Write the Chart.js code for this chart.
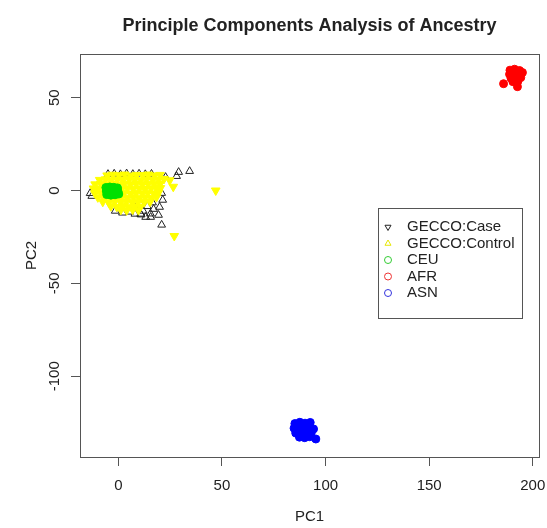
<!DOCTYPE html>
<html>
<head>
<meta charset="utf-8">
<script src="https://cdn.jsdelivr.net/npm/chart.js@4/dist/chart.umd.min.js"></script>
<style>
  html, body { margin: 0; padding: 0; background: #ffffff; }
  #wrap { width: 547px; height: 528px; }
</style>
</head>
<body>
<div id="wrap"><canvas id="c" width="547" height="528"></canvas></div>
<script>
// Labels
const chartTitle = 'Principle Components Analysis of Ancestry';
const xTitle = 'PC1';
const yTitle = 'PC2';
const xTicks = [0, 50, 100, 150, 200];
const yTicks = [-100, -50, 0, 50];
const seriesNames = ['GECCO:Case', 'GECCO:Control', 'CEU', 'AFR', 'ASN'];

// GECCO cases: rim of the main cloud plus the scattered outliers
const geccoCase = [
  [-5.0, 8.8], [-2.0, 9.0], [1.0, 8.7], [4.0, 9.1], [7.0, 8.8], [10.0, 9.0], [13.0, 8.7], [16.0, 8.9],
  [-13.6, -1.5], [-12.8, -3.0],
  [-1.5, -11.0], [2.0, -12.0], [5.5, -11.5], [8.0, -12.6], [8.0, -9.0], [10.5, -7.0], [12.0, -11.0],
  [14.0, -8.5], [15.5, -12.5], [17.0, -10.0], [16.5, -6.5], [11.0, -13.0],
  [22.8, 7.2], [28.1, 7.7], [29.1, 9.9], [34.4, 10.4],
  [20.9, -1.4], [21.4, -5.1], [19.9, -8.9], [19.4, -13.2], [20.9, -18.5],
  [15.6, -14.3], [13.2, -14.3], [10.8, -12.6]
];

// GECCO controls: dense main cloud and a few stragglers
const geccoControl = [
  [-5.4, 8.1], [-2.7, 8.5], [0.3, 8.2], [3.0, 8.6], [6.0, 8.0], [8.7, 8.4], [11.7, 8.3], [14.4, 8.6], [17.4, 8.1], [20.1, 8.4],
  [-9.0, 5.7], [-6.2, 6.0], [-3.5, 5.5], [-0.5, 5.9], [2.2, 5.6], [5.2, 6.1], [7.9, 5.8], [10.9, 5.5], [13.6, 6.0], [16.6, 5.7], [19.3, 5.9], [22.0, 6.2],
  [-11.2, 3.3], [-8.5, 3.6], [-5.5, 3.2], [-2.8, 3.5], [0.2, 3.1], [2.9, 3.6], [5.9, 3.3], [8.6, 3.5], [11.6, 3.2], [14.3, 3.6], [17.3, 3.3], [20.0, 3.5],
  [-12.0, 1.1], [-9.9, 0.8], [-7.0, 1.2], [-4.2, 0.9], [-1.3, 1.0], [1.5, 0.7], [4.4, 1.2], [7.2, 0.9], [10.1, 1.1], [12.9, 0.8], [15.8, 1.2], [18.6, 0.9], [20.3, 1.3],
  [-11.3, -1.5], [-8.5, -1.2], [-5.6, -1.6], [-2.8, -1.3], [0.1, -1.5], [2.9, -1.2], [5.8, -1.6], [8.6, -1.3], [11.5, -1.5], [14.3, -1.2], [17.2, -1.6], [19.3, -1.3],
  [-9.9, -3.7], [-7.1, -4.0], [-4.2, -3.6], [-1.4, -3.9], [1.5, -3.7], [4.3, -4.0], [7.2, -3.6], [10.0, -3.9], [12.9, -3.7], [15.7, -4.0], [18.4, -3.6],
  [-7.5, -6.1], [-4.6, -6.4], [-1.8, -6.0], [1.1, -6.3], [3.9, -6.1], [6.8, -6.4], [9.6, -6.0], [12.5, -6.3], [15.3, -6.1],
  [-3.6, -8.5], [-0.8, -8.8], [2.1, -8.4], [4.9, -8.7], [7.8, -8.5], [10.6, -8.8],
  [1.2, -10.4], [4.0, -10.7], [6.9, -10.3], [9.7, -10.6],
  [24.8, 5.5], [26.5, 2.0], [47.0, 0.0], [27.0, -24.5]
];

// Reference panels
const ceu = [
  [-6.0, 1.6], [-4.1, 1.9], [-2.2, 1.7], [-0.4, 1.4], [-5.8, -0.3], [-3.9, 0.1], [-1.9, -0.2], [-0.2, -0.4],
  [-5.6, -2.2], [-3.6, -2.5], [-1.6, -2.3], [0.2, -1.9], [-2.9, 0.9], [-1.1, 0.6], [-4.8, -1.2]
];
const afr = [
  [189.0, 64.8], [191.2, 65.3], [193.6, 64.6], [188.8, 62.6], [191.0, 62.9], [193.4, 62.2], [195.0, 63.5],
  [189.5, 60.5], [191.8, 60.2], [194.2, 60.8], [190.4, 58.6], [192.8, 58.8], [185.9, 57.5], [192.6, 55.9]
];
const asn = [
  [85.2, -125.5], [87.6, -124.8], [90.1, -125.3], [92.6, -124.9], [84.8, -128.0], [87.2, -127.6], [89.7, -128.2],
  [92.2, -127.8], [94.2, -128.4], [85.6, -130.6], [88.1, -130.2], [90.6, -130.8], [93.1, -130.4], [87.4, -132.8],
  [89.9, -133.1], [92.4, -132.6], [95.3, -133.8]
];

const toPts = arr => arr.map(([x, y]) => ({ x, y }));
const FONT = '"Liberation Sans", Arial, Helvetica, sans-serif';
const TEXT = '#222222';

// Frame, rotated y tick labels, main title and legend box
const decorations = {
  id: 'decorations',
  afterDraw(chart) {
    const ctx = chart.ctx;
    const ca = chart.chartArea;
    const ys = chart.scales.y;
    ctx.save();

    ctx.strokeStyle = '#555555';
    ctx.lineWidth = 1;
    ctx.strokeRect(Math.round(ca.left) + 0.5, Math.round(ca.top) + 0.5,
                   Math.round(ca.right - ca.left), Math.round(ca.bottom - ca.top));

    ctx.fillStyle = TEXT;
    ctx.font = '15px ' + FONT;
    ctx.textAlign = 'center';
    ctx.textBaseline = 'middle';
    yTicks.forEach(v => {
      const py = ys.getPixelForValue(v);
      ctx.save();
      ctx.translate(ca.left - 25, py);
      ctx.rotate(-Math.PI / 2);
      ctx.fillText(String(v), 0, 0);
      ctx.restore();
    });

    ctx.font = 'bold 18px ' + FONT;
    ctx.textBaseline = 'alphabetic';
    ctx.fillText(chartTitle, (ca.left + ca.right) / 2, 31);

    const lx = ca.left + 298, ly = ca.top + 154, lw = 144, lh = 110;
    ctx.strokeStyle = '#555555';
    ctx.strokeRect(lx + 0.5, ly + 0.5, lw, lh);
    const syms = [
      { style: 'triangle', rot: 180, color: '#222222' },
      { style: 'triangle', rot: 0, color: '#e6e600' },
      { style: 'circle', rot: 0, color: '#33cc33' },
      { style: 'circle', rot: 0, color: '#ee3333' },
      { style: 'circle', rot: 0, color: '#3333dd' }
    ];
    seriesNames.forEach((name, i) => {
      const y = ly + 19 + i * 16.5;
      ctx.strokeStyle = syms[i].color;
      ctx.fillStyle = 'rgba(0,0,0,0)';
      ctx.lineWidth = 1;
      Chart.helpers.drawPoint(ctx, { pointStyle: syms[i].style, rotation: syms[i].rot, radius: 3.5, borderWidth: 1 }, lx + 10, y);
      ctx.fillStyle = TEXT;
      ctx.font = '15px ' + FONT;
      ctx.textAlign = 'left';
      ctx.textBaseline = 'middle';
      ctx.fillText(name, lx + 29, y);
    });
    ctx.restore();
  }
};

new Chart(document.getElementById('c'), {
  type: 'scatter',
  data: {
    datasets: [
      { label: seriesNames[0], data: toPts(geccoCase), order: 5, pointStyle: 'triangle', pointRadius: 4.5,
        borderColor: '#222222', backgroundColor: 'rgba(0,0,0,0)', borderWidth: 1 },
      { label: seriesNames[1], data: toPts(geccoControl), order: 4, pointStyle: 'triangle', rotation: 180, pointRadius: 5,
        borderColor: '#ffff00', backgroundColor: '#ffff00', borderWidth: 1 },
      { label: seriesNames[2], data: toPts(ceu), order: 3, pointStyle: 'circle', pointRadius: 4,
        borderColor: '#00e000', backgroundColor: '#00e000', borderWidth: 1 },
      { label: seriesNames[3], data: toPts(afr), order: 2, pointStyle: 'circle', pointRadius: 4,
        borderColor: '#ff0000', backgroundColor: '#ff0000', borderWidth: 1 },
      { label: seriesNames[4], data: toPts(asn), order: 1, pointStyle: 'circle', pointRadius: 4,
        borderColor: '#0000ff', backgroundColor: '#0000ff', borderWidth: 1 }
    ]
  },
  options: {
    responsive: false,
    animation: false,
    devicePixelRatio: 1,
    layout: { padding: { top: 54, right: 8, bottom: 0, left: 0 } },
    plugins: { legend: { display: false }, tooltip: { enabled: false }, title: { display: false } },
    scales: {
      x: {
        type: 'linear', min: -18.5, max: 203,
        afterBuildTicks: s => { s.ticks = xTicks.map(v => ({ value: v })); },
        afterFit: s => { s.height = 71; s.paddingLeft = 0; s.paddingRight = 0; },
        grid: { display: true, drawOnChartArea: false, drawTicks: true, tickLength: 9, color: '#555555', lineWidth: 1 },
        border: { display: false },
        ticks: { font: { family: FONT, size: 15 }, color: TEXT, padding: 11, maxRotation: 0, autoSkip: false },
        title: { display: true, text: xTitle, font: { family: FONT, size: 15 }, color: TEXT, padding: { top: 0, bottom: 2 } }
      },
      y: {
        type: 'linear', min: -143.5, max: 73.5,
        afterBuildTicks: s => { s.ticks = yTicks.map(v => ({ value: v })); },
        afterFit: s => { s.width = 80; s.paddingTop = 0; s.paddingBottom = 0; },
        grid: { display: true, drawOnChartArea: false, drawTicks: true, tickLength: 9, color: '#555555', lineWidth: 1 },
        border: { display: false },
        ticks: { font: { family: FONT, size: 15 }, color: 'rgba(0,0,0,0)', padding: 4, autoSkip: false },
        title: { display: true, text: yTitle, font: { family: FONT, size: 15 }, color: TEXT, padding: { top: 23, bottom: 0 } }
      }
    }
  },
  plugins: [decorations]
});
</script>
</body>
</html>
